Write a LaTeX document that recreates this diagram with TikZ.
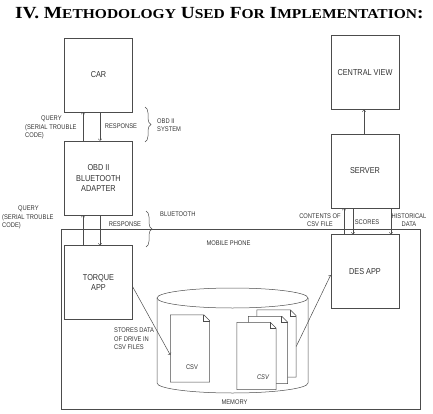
\documentclass[tikz,border=0pt]{standalone}
\usepackage{fontspec}
\newfontfamily\diagfont{Liberation Sans}[FakeStretch=0.85]
\newfontfamily\titlefont{Liberation Serif}[FakeStretch=1.14]
\usetikzlibrary{arrows,calc,decorations.pathreplacing}
\tikzstyle{block}=[draw=black!70,line width=0.6pt,minimum width=68pt,minimum height=74pt,inner sep=0pt,align=center,text=black!80,font=\diagfont\fontsize{8.6}{10.5}\selectfont]
\tikzstyle{tag}=[inner sep=0pt,text=black!80,font=\diagfont\fontsize{6.8}{8.5}\selectfont]
\tikzstyle{edge} = [draw=black!70,line width=0.5pt,->]
\tikzstyle{plain} = [draw=black!70,line width=0.5pt]
\tikzstyle{brace} = [draw=black!70,line width=0.5pt,decorate,decoration={brace,amplitude=6pt}]
\tikzstyle{sheet}=[minimum width=39pt,minimum height=67pt,inner sep=0pt]
\newcommand{\tsc}[1]{{\fontsize{13.6}{15}\selectfont #1}}
\newcommand{\csvsheet}[1]{%
  \draw[plain,fill=white] (#1.south west) -- (#1.north west) -- ([xshift=-6pt]#1.north east)
     -- ([yshift=-6pt]#1.north east) -- (#1.south east) -- cycle;
  \draw[plain] ([xshift=-6pt]#1.north east) -- ++(0pt,-6pt) -- ([yshift=-6pt]#1.north east);}

\begin{document}
\begin{tikzpicture}[x=1pt,y=-1pt,>=to]
\useasboundingbox (0,0) rectangle (433,414);

\node[anchor=base west,inner sep=0pt] (title) at (15,19)
  {\titlefont\bfseries\fontsize{17}{18}\selectfont IV. M\tsc{ETHODOLOGY} U\tsc{SED} F\tsc{OR} I\tsc{MPLEMENTATION}:};

% mobile phone frame
\node[draw=black!70,line width=0.6pt,minimum width=359pt,minimum height=180pt,inner sep=0pt] (phone) at (240.5,319) {};

    \foreach \pos/ \name/ \txt in {{(98.5,75)/car/CAR}, {(98.5,178)/obd/{OBD II\\BLUETOOTH\\ADAPTER}}, {(98.5,282.5)/torque/{TORQUE\\APP}},
                                   {(365,72.5)/central/CENTRAL VIEW}, {(365,171)/server/SERVER}, {(365,271.5)/des/DES APP}}
        \node[block,fill=white] (\name) at \pos {\txt};

    % upward and downward links
    \foreach \source/ \dest/ \dx in {obd/car/-15.5, torque/obd/-15.5, server/central/-1, des/server/-21}
        \path[edge] ([xshift=\dx pt]\source.north) -- ([xshift=\dx pt]\dest.south);
    \foreach \source/ \dest/ \dx in {car/obd/1.5, obd/torque/1.5, server/des/-12, server/des/26}
        \path[edge] ([xshift=\dx pt]\source.south) -- ([xshift=\dx pt]\dest.north);

\draw[brace] (145,107) -- (145,142);
\draw[brace] (146,211) -- (146,247);

% memory
\draw[plain] (232.5,298) ellipse [x radius=75.5pt,y radius=10pt];
\draw[plain] (157,298) -- (157,383) arc[start angle=180,end angle=360,x radius=75.5pt,y radius=10pt] -- (308,298);

    \foreach \pos/ \name in {{(190,348.5)/one}, {(276.5,343.5)/back}, {(268,350)/mid}, {(256.5,356)/front}}
        \node[sheet] (\name) at \pos {};
\csvsheet{one}
\csvsheet{back}
\csvsheet{mid}
\csvsheet{front}

\path[edge] ([yshift=-4.5pt]torque.east) -- ([yshift=-6.5pt]one.west);
\path[edge] ([yshift=-3pt]back.east) -- ([yshift=-3.5pt]des.west);

\node[tag,anchor=north west,align=left] (qone) at (25,116) {\hspace*{16pt}QUERY\\(SERIAL TROUBLE\\CODE)};
\node[tag,anchor=north west,align=left] (qtwo) at (2,206) {\hspace*{16pt}QUERY\\(SERIAL TROUBLE\\CODE)};
\node[tag] (rone) at (121,126) {RESPONSE};
\node[tag] (rtwo) at (125,224) {RESPONSE};
\node[tag,anchor=west,align=left] (obdsys) at (157,125) {OBD II\\SYSTEM};
\node[tag,anchor=west] (blue) at (160,214) {BLUETOOTH};
\node[tag] (phonetxt) at (228.5,243) {MOBILE PHONE};
\node[tag,align=center] (contents) at (320,220) {CONTENTS OF\\CSV FILE};
\node[tag] (scores) at (367,222) {SCORES};
\node[tag,align=center] (hist) at (409,220) {HISTORICAL\\DATA};
\node[tag,anchor=north west,align=left] (stores) at (114,328) {STORES DATA\\OF DRIVE IN\\CSV FILES};
\node[tag] (memory) at (234.5,402) {MEMORY};
\node[tag] (csvone) at (192,367) {CSV};
\node[tag,font=\diagfont\itshape\fontsize{6.8}{8.5}\selectfont] (csvtwo) at (263,377) {CSV};

\end{tikzpicture}
\end{document}
